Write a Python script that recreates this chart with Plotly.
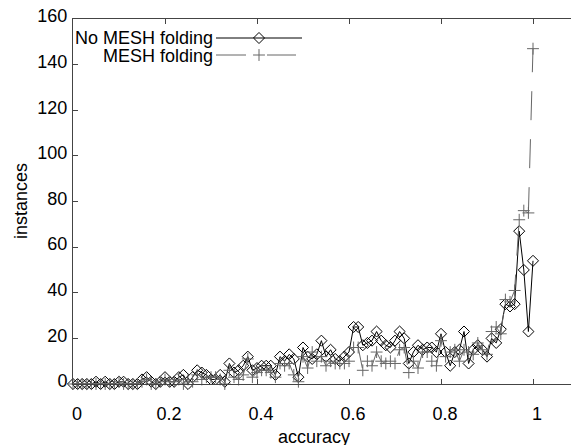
import plotly.graph_objects as go

accuracy = [round(i * 0.01, 2) for i in range(101)]

no_mesh = [
    0, 0, 0, 0, 0, 1, 0, 1, 0, 0,
    1, 1, 0, 0, 0, 2, 3, 1, 0, 1,
    3, 1, 1, 3, 4, 0, 3, 6, 5, 4,
    2, 2, 4, 1, 9, 5, 6, 8, 12, 6,
    7, 8, 8, 8, 4, 12, 10, 13, 11, 3,
    16, 12, 11, 13, 19, 12, 15, 11, 10, 12,
    14, 25, 25, 17, 18, 19, 23, 19, 17, 16,
    19, 23, 20, 9, 14, 17, 15, 16, 16, 14,
    22, 14, 8, 14, 15, 23, 9, 15, 17, 15,
    12, 20, 18, 24, 35, 34, 35, 67, 50, 23,
    54,
]

mesh = [
    0, 0, 0, 0, 0, 0, 0, 0, 0, 0,
    1, 0, 0, 0, 0, 1, 2, 0, 0, 1,
    2, 1, 1, 2, 0, 2, 1, 4, 2, 3,
    3, 3, 2, 0, 6, 3, 2, 4, 11, 3,
    5, 6, 6, 5, 3, 9, 8, 9, 4, 1,
    12, 7, 14, 10, 12, 8, 10, 9, 9, 9,
    10, 16, 16, 6, 10, 8, 14, 10, 9, 10,
    9, 15, 16, 5, 10, 7, 14, 14, 10, 8,
    19, 12, 14, 15, 10, 15, 14, 13, 18, 15,
    13, 23, 25, 22, 37, 36, 41, 72, 76, 75,
    147,
]

series_names = ["No MESH folding", "MESH folding"]
x_ticks = [0, 0.2, 0.4, 0.6, 0.8, 1]
x_tick_labels = ["0", "0.2", "0.4", "0.6", "0.8", "1"]
y_ticks = [0, 20, 40, 60, 80, 100, 120, 140, 160]

FONT = "Liberation Sans, Arial, sans-serif"
GRAY = "#666666"
AX = "#444444"

# plot-area geometry in pixels
L, R, T, B = 73, 571, 19, 384


def px(x):
    return (x - L) / (R - L)


def py(y):
    return (B - y) / (B - T)


fig = go.Figure()
fig.add_trace(go.Scatter(
    x=accuracy, y=no_mesh, mode="lines+markers", name=series_names[0],
    line=dict(color="black", width=1),
    marker=dict(symbol="diamond-open", size=8.5, color="black", line=dict(width=1)),
    cliponaxis=False, showlegend=False,
))
fig.add_trace(go.Scatter(
    x=accuracy, y=mesh, mode="lines+markers", name=series_names[1],
    line=dict(color=GRAY, width=1, dash="29px,19px"),
    marker=dict(symbol="cross-thin-open", size=8.5, color=GRAY, line=dict(width=1, color=GRAY)),
    cliponaxis=False, showlegend=False,
))

# manual legend (text right-aligned, sample to the right), on pixel-like overlay axes
fig.add_trace(go.Scatter(
    x=[216, 302], y=[38, 38], mode="lines", xaxis="x2", yaxis="y2",
    line=dict(color="black", width=1), showlegend=False, hoverinfo="skip",
))
fig.add_trace(go.Scatter(
    x=[259], y=[38], mode="markers", xaxis="x2", yaxis="y2",
    marker=dict(symbol="diamond-open", size=8.5, color="black", line=dict(width=1)),
    showlegend=False, hoverinfo="skip",
))
fig.add_trace(go.Scatter(
    x=[216, 246], y=[55, 55], mode="lines", xaxis="x2", yaxis="y2",
    line=dict(color=GRAY, width=1), showlegend=False, hoverinfo="skip",
))
fig.add_trace(go.Scatter(
    x=[267, 296], y=[55, 55], mode="lines", xaxis="x2", yaxis="y2",
    line=dict(color=GRAY, width=1), showlegend=False, hoverinfo="skip",
))
fig.add_trace(go.Scatter(
    x=[259], y=[55], mode="markers", xaxis="x2", yaxis="y2",
    marker=dict(symbol="cross-thin-open", size=8.5, color=GRAY, line=dict(width=1, color=GRAY)),
    showlegend=False, hoverinfo="skip",
))

tfont = dict(family=FONT, size=18, color="black")
annotations = [
    dict(text=series_names[0], x=px(215), y=py(38), xref="paper", yref="paper",
         xanchor="right", yanchor="middle", showarrow=False, font=tfont),
    dict(text=series_names[1], x=px(215), y=py(56), xref="paper", yref="paper",
         xanchor="right", yanchor="middle", showarrow=False, font=tfont),
    dict(text="accuracy", x=px(314), y=py(437), xref="paper", yref="paper",
         xanchor="center", yanchor="middle", showarrow=False, font=tfont),
    dict(text="instances", x=px(21), y=py(201), xref="paper", yref="paper",
         xanchor="center", yanchor="middle", showarrow=False, textangle=-90, font=tfont),
]

fig.update_layout(
    width=571, height=445,
    margin=dict(l=L, r=571 - R, t=T, b=445 - B, autoexpand=False),
    plot_bgcolor="white", paper_bgcolor="white",
    font=dict(family=FONT, size=18, color="black"),
    xaxis=dict(
        range=[0, (R - L) / 460], tickvals=x_ticks, ticktext=x_tick_labels,
        showgrid=False, zeroline=False, showline=True, linecolor=AX, linewidth=1,
        mirror="ticks", ticks="inside", ticklen=5, tickcolor=AX, tickwidth=1,
        ticklabelshift=4, ticklabelstandoff=13,
    ),
    yaxis=dict(
        range=[0, 160], tickvals=y_ticks,
        showgrid=False, zeroline=False, showline=True, linecolor=AX, linewidth=1,
        ticks="inside", ticklen=5, tickcolor=AX, tickwidth=1,
        ticklabelshift=-3, ticklabelstandoff=1,
    ),
    xaxis2=dict(overlaying="x", range=[L, R], visible=False, fixedrange=True),
    yaxis2=dict(overlaying="y", range=[B, T], visible=False, fixedrange=True),
    annotations=annotations,
)

fig.write_html(
    "out.html",
    config={"displayModeBar": False},
    post_script="document.body.style.margin='0';document.body.style.padding='0';",
)
